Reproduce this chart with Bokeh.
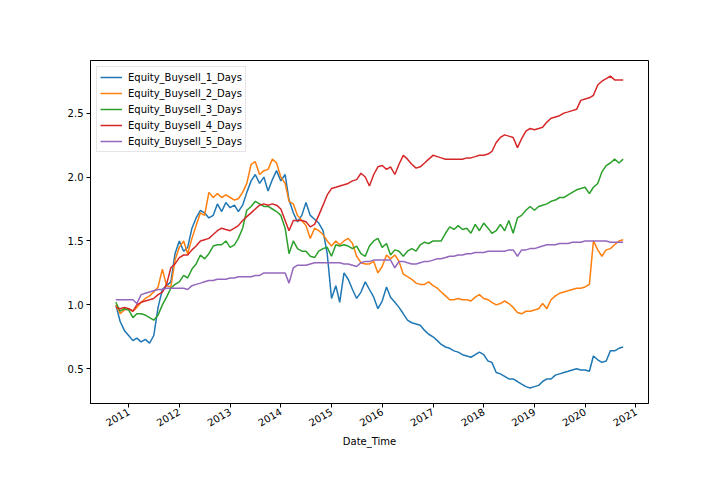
import pandas as pd
from math import pi
from bokeh.plotting import figure
from bokeh.models import FixedTicker, DatetimeTickFormatter, Range1d, Legend, LegendItem, NumeralTickFormatter
from bokeh.embed import file_html
from bokeh.resources import INLINE

# monthly observation dates (Oct 2010 .. Oct 2020)
dates = pd.date_range("2010-10-01", periods=121, freq="MS")

buysell_1 = [
    1.00, 0.87, 0.80, 0.76, 0.72, 0.74, 0.71, 0.73, 0.70, 0.76,
    0.98, 1.12, 1.15, 1.18, 1.40, 1.50, 1.42, 1.45, 1.60, 1.68,
    1.74, 1.72, 1.68, 1.70, 1.79, 1.73, 1.80, 1.76, 1.78, 1.73,
    1.78, 1.88, 1.97, 2.02, 1.95, 2.00, 1.89, 1.98, 2.05, 1.97,
    2.02, 1.82, 1.72, 1.65, 1.70, 1.80, 1.70, 1.67, 1.64, 1.58,
    1.40, 1.05, 1.15, 1.02, 1.25, 1.20, 1.12, 1.05, 1.10, 1.18,
    1.12, 1.06, 0.97, 1.03, 1.14, 1.06, 1.02, 0.98, 0.93, 0.88,
    0.86, 0.85, 0.84, 0.80, 0.77, 0.75, 0.72, 0.69, 0.67, 0.66,
    0.64, 0.63, 0.61, 0.60, 0.59, 0.61, 0.63, 0.61, 0.56, 0.55,
    0.47, 0.46, 0.44, 0.42, 0.42, 0.40, 0.38, 0.36, 0.35, 0.36,
    0.37, 0.40, 0.42, 0.42, 0.45, 0.46, 0.47, 0.48, 0.49, 0.50,
    0.49, 0.49, 0.48, 0.60, 0.57, 0.55, 0.56, 0.64, 0.64, 0.66,
    0.67,
]
buysell_2 = [
    1.00, 0.93, 0.96, 0.97, 0.95, 0.98, 1.02, 1.05, 1.07, 1.10,
    1.14, 1.28, 1.15, 1.14, 1.35, 1.45, 1.50, 1.40, 1.52, 1.62,
    1.72, 1.70, 1.88, 1.84, 1.87, 1.84, 1.86, 1.84, 1.82, 1.83,
    1.88, 1.95, 2.10, 2.12, 2.02, 2.05, 2.06, 2.14, 2.11, 2.00,
    1.95, 1.81, 1.79, 1.70, 1.66, 1.62, 1.52, 1.60, 1.58, 1.55,
    1.50, 1.46, 1.50, 1.47, 1.50, 1.52, 1.48, 1.38, 1.33, 1.32,
    1.32, 1.34, 1.25, 1.30, 1.39, 1.36, 1.39, 1.34, 1.24, 1.22,
    1.20, 1.17, 1.16, 1.16, 1.18, 1.15, 1.13, 1.10, 1.07, 1.04,
    1.04, 1.05, 1.04, 1.04, 1.03, 1.06, 1.08, 1.05, 1.04, 1.02,
    1.00, 1.01, 1.03, 1.01, 0.98, 0.94, 0.93, 0.95, 0.95, 0.96,
    0.97, 1.01, 0.97, 1.04, 1.07, 1.09, 1.10, 1.11, 1.12, 1.13,
    1.13, 1.14, 1.16, 1.50, 1.43, 1.38, 1.43, 1.44, 1.47, 1.50,
    1.51,
]
buysell_3 = [
    1.02, 0.95, 0.97, 0.96, 0.90, 0.93, 0.93, 0.92, 0.90, 0.88,
    0.92, 1.00, 1.06, 1.13, 1.16, 1.18, 1.23, 1.21, 1.28, 1.32,
    1.39, 1.36, 1.40, 1.46, 1.47, 1.47, 1.50, 1.45, 1.47, 1.52,
    1.60, 1.74, 1.77, 1.81, 1.79, 1.77, 1.77, 1.75, 1.73, 1.70,
    1.60, 1.40, 1.50, 1.44, 1.42, 1.42, 1.38, 1.37, 1.42, 1.44,
    1.45, 1.38, 1.47, 1.46, 1.47, 1.46, 1.44, 1.46, 1.40, 1.38,
    1.46, 1.50, 1.52, 1.45, 1.48, 1.39, 1.43, 1.42, 1.38, 1.42,
    1.44, 1.42, 1.47, 1.49, 1.48, 1.50, 1.50, 1.50, 1.56, 1.61,
    1.59, 1.62, 1.59, 1.60, 1.56, 1.63, 1.58, 1.64, 1.60, 1.56,
    1.58, 1.63, 1.58, 1.66, 1.56, 1.68, 1.70, 1.74, 1.77, 1.74,
    1.77, 1.78, 1.79, 1.81, 1.82, 1.84, 1.84, 1.86, 1.88, 1.90,
    1.91, 1.92, 1.87, 1.92, 1.95, 2.04, 2.09, 2.11, 2.14, 2.11,
    2.14,
]
buysell_4 = [
    0.98, 0.97, 0.98, 0.97, 0.95, 1.00, 1.02, 1.03, 1.04, 1.05,
    1.08, 1.10, 1.16, 1.29, 1.32, 1.37, 1.39, 1.39, 1.43, 1.46,
    1.50, 1.51, 1.52, 1.55, 1.58, 1.60, 1.59, 1.58, 1.60, 1.62,
    1.66, 1.69, 1.72, 1.75, 1.78, 1.79, 1.78, 1.79, 1.78, 1.75,
    1.66, 1.58, 1.66, 1.66, 1.66, 1.65, 1.61, 1.63, 1.70, 1.78,
    1.86, 1.91, 1.92, 1.93, 1.94, 1.95, 1.97, 1.98, 2.03, 2.00,
    1.93, 2.02, 2.08, 2.09, 2.06, 2.08, 2.02, 2.10, 2.17, 2.14,
    2.10, 2.07, 2.08, 2.11, 2.14, 2.17, 2.16, 2.15, 2.14, 2.14,
    2.14, 2.14, 2.14, 2.15, 2.15, 2.16, 2.17, 2.17, 2.18, 2.20,
    2.27, 2.31, 2.33, 2.32, 2.31, 2.23, 2.30, 2.36, 2.38, 2.37,
    2.38, 2.39, 2.43, 2.46, 2.47, 2.48, 2.50, 2.51, 2.52, 2.53,
    2.60, 2.61, 2.62, 2.64, 2.72, 2.75, 2.77, 2.79, 2.76, 2.76,
    2.76,
]
buysell_5 = [
    1.04, 1.04, 1.04, 1.04, 1.04, 1.01, 1.08, 1.09, 1.10, 1.11,
    1.12, 1.12, 1.13, 1.13, 1.13, 1.13, 1.13, 1.12, 1.15, 1.16,
    1.17, 1.18, 1.19, 1.19, 1.20, 1.20, 1.20, 1.21, 1.21, 1.22,
    1.22, 1.22, 1.22, 1.23, 1.23, 1.25, 1.25, 1.25, 1.25, 1.25,
    1.25, 1.17, 1.29, 1.31, 1.31, 1.31, 1.32, 1.33, 1.33, 1.33,
    1.33, 1.33, 1.33, 1.33, 1.32, 1.32, 1.31, 1.30, 1.33, 1.34,
    1.34, 1.35, 1.35, 1.35, 1.35, 1.35, 1.29, 1.34, 1.34, 1.33,
    1.32, 1.32, 1.33, 1.34, 1.34, 1.35, 1.36, 1.36, 1.37, 1.38,
    1.38, 1.39, 1.39, 1.40, 1.40, 1.41, 1.41, 1.41, 1.42, 1.42,
    1.42, 1.42, 1.42, 1.43, 1.43, 1.38, 1.43, 1.43, 1.44, 1.44,
    1.45, 1.46, 1.47, 1.47, 1.47, 1.48, 1.48, 1.48, 1.49, 1.49,
    1.49, 1.50, 1.50, 1.50, 1.50, 1.50, 1.50, 1.49, 1.49, 1.49,
    1.49,
]

series_names = ["Equity_Buysell_1_Days", "Equity_Buysell_2_Days", "Equity_Buysell_3_Days",
                "Equity_Buysell_4_Days", "Equity_Buysell_5_Days"]
series_values = [buysell_1, buysell_2, buysell_3, buysell_4, buysell_5]
colors = ["#1f77b4", "#ff7f0e", "#2ca02c", "#d62728", "#9467bd"]

y_ticks = [0.5, 1.0, 1.5, 2.0, 2.5]
x_tick_years = list(range(2011, 2022))

# ranges with matplotlib-like 5% margins
t0 = dates[0].value / 1e6
t1 = dates[-1].value / 1e6
xpad = (t1 - t0) * 0.05
allv = [v for s in series_values for v in s]
vmin, vmax = min(allv), max(allv)
ypad = (vmax - vmin) * 0.05

p = figure(width=704, height=488, output_backend="svg", toolbar_location=None,
           x_axis_type="datetime",
           x_range=Range1d(t0 - xpad, t1 + xpad), y_range=Range1d(vmin - ypad, vmax + ypad),
           min_border_left=90, min_border_right=56, min_border_top=60, min_border_bottom=85)

p.background_fill_color = "white"
p.border_fill_color = "white"
p.outline_line_color = "black"
p.outline_line_width = 1
p.xgrid.visible = False
p.ygrid.visible = False

items = []
for name, vals, c in zip(series_names, series_values, colors):
    r = p.line(dates, vals, line_color=c, line_width=1.5)
    items.append(LegendItem(label=name, renderers=[r]))

legend = Legend(items=items, location="top_left")
legend.label_text_font = "DejaVu Sans"
legend.label_text_font_size = "10px"
legend.label_text_color = "black"
legend.label_height = 14
legend.glyph_height = 14
legend.glyph_width = 22
legend.spacing = 2
legend.padding = 3
legend.margin = 6
legend.label_standoff = 6
legend.border_line_color = "#cccccc"
legend.border_line_width = 1
legend.background_fill_alpha = 0.8
p.add_layout(legend, "center")

tick_ms = [pd.Timestamp(f"{y}-01-01").value / 1e6 for y in x_tick_years]
p.xaxis.ticker = FixedTicker(ticks=tick_ms)
p.xaxis.formatter = DatetimeTickFormatter(years="%Y", months="%Y", days="%Y")
p.xaxis.major_label_orientation = pi / 6
p.xaxis.axis_label = "Date_Time"

p.yaxis.ticker = FixedTicker(ticks=y_ticks)
p.yaxis.formatter = NumeralTickFormatter(format="0.0")

for ax in (p.xaxis, p.yaxis):
    ax.major_tick_in = 0
    ax.major_tick_out = 4
    ax.minor_tick_in = 0
    ax.minor_tick_out = 0
    ax.major_label_standoff = 3
    ax.axis_line_color = "black"
    ax.major_tick_line_color = "black"
    ax.major_label_text_font = "DejaVu Sans"
    ax.major_label_text_font_size = "10px"
    ax.major_label_text_color = "black"
    ax.axis_label_text_font = "DejaVu Sans"
    ax.axis_label_text_font_size = "10px"
    ax.axis_label_text_font_style = "normal"
    ax.axis_label_text_color = "black"
    ax.axis_label_standoff = 3

open("out.html", "w").write(file_html(p, INLINE))
